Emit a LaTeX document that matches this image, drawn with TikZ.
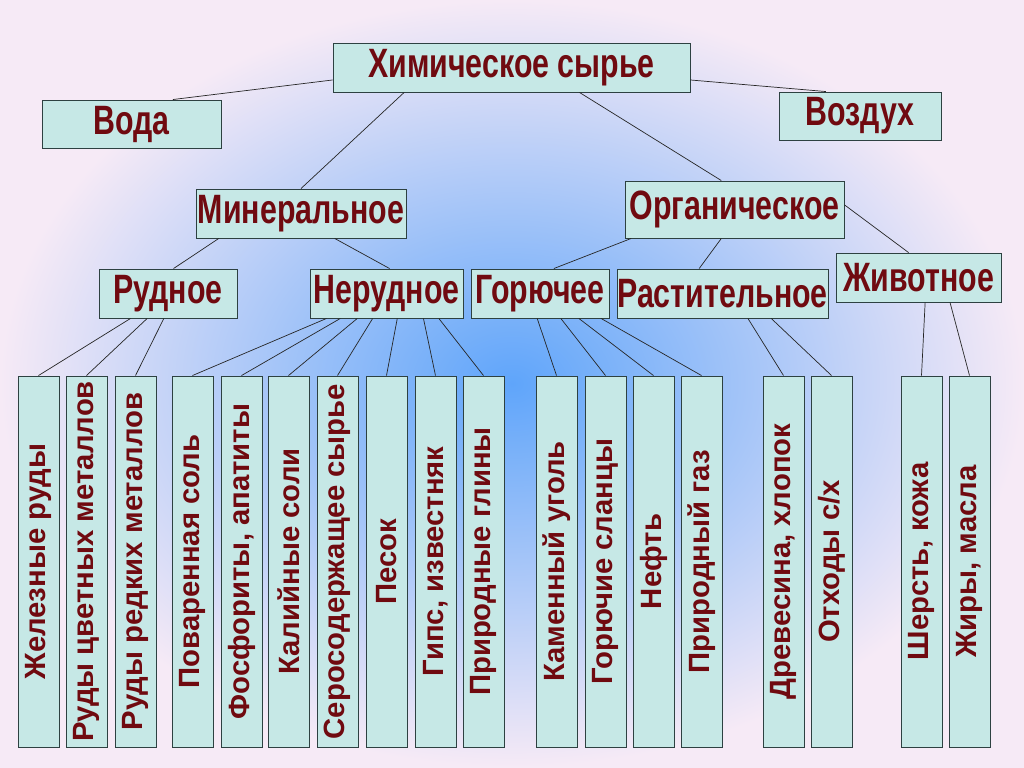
\documentclass[tikz,border=0pt]{standalone}
\usepackage{fontspec}
\setmainfont{Liberation Sans}
\newfontfamily\narfont[FakeStretch=0.74]{Liberation Sans}
\usetikzlibrary{calc}
\definecolor{boxfill}{RGB}{198,232,230}
\definecolor{boxline}{RGB}{45,65,65}
\definecolor{txtred}{RGB}{112,10,16}
\definecolor{bgblue}{RGB}{95,165,250}
\definecolor{bgedge}{RGB}{246,234,246}
\tikzset{
  cat/.style={rectangle,draw=boxline,fill=boxfill,thick,inner sep=0pt,
    text=txtred,font=\narfont\bfseries\fontsize{35}{37}\selectfont},
  item/.style={rectangle,draw=boxline,fill=boxfill,thick,inner sep=0pt,
    minimum width=41*0.3mm,minimum height=371*0.3mm,
    text=txtred,font=\bfseries\fontsize{25}{27}\selectfont},
  link/.style={draw=black!85,semithick}
}
\begin{document}
\begin{tikzpicture}[x=0.3mm,y=-0.3mm]
\shade[inner color=bgblue,outer color=bgedge] (0,0) rectangle (1024,767);
\useasboundingbox (0,0) rectangle (1024,767);
% top levels
\node[cat,minimum width=357*0.3mm,minimum height=49*0.3mm] (chem) at (511.5,67.5) {Химическое сырье};
\node[cat,minimum width=179*0.3mm,minimum height=48*0.3mm] (voda) at (131.5,124) {Вода};
\node[cat,minimum width=162*0.3mm,minimum height=48*0.3mm] (air) at (860,116) {Воздух};
\node[cat,minimum width=210*0.3mm,minimum height=49*0.3mm] (min) at (301,213.5) {Минеральное};
\node[cat,minimum width=219*0.3mm,minimum height=57*0.3mm] (org) at (734.5,209.5) {Органическое};
\node[cat,minimum width=138*0.3mm,minimum height=49*0.3mm] (rud) at (168,293.5) {Рудное};
\node[cat,minimum width=153*0.3mm,minimum height=49*0.3mm] (nerud) at (386.5,293.5) {Нерудное};
\node[cat,minimum width=138*0.3mm,minimum height=49*0.3mm] (gor) at (540,293.5) {Горючее};
\node[cat,minimum width=211*0.3mm,minimum height=49*0.3mm] (rast) at (722.5,293.5) {Растительное};
\node[cat,minimum width=165*0.3mm,minimum height=49*0.3mm] (zhiv) at (918.5,277.5) {Животное};
% upper links
\draw[link] ($(chem.south west)!0.5!(chem.west)$) -- ($(voda.north west)!0.73!(voda.north east)$);
\draw[link] ($(chem.south east)!0.5!(chem.east)$) -- ($(air.north west)!0.29!(air.north east)$);
\draw[link] ($(chem.south west)!0.2!(chem.south east)$) -- ($(min.north west)!0.5!(min.north east)$);
\draw[link] ($(chem.south west)!0.69!(chem.south east)$) -- ($(org.north west)!0.44!(org.north east)$);
\draw[link] ($(min.south west)!0.11!(min.south east)$) -- ($(rud.north west)!0.54!(rud.north east)$);
\draw[link] ($(min.south west)!0.66!(min.south east)$) -- ($(nerud.north west)!0.52!(nerud.north east)$);
\draw[link] ($(org.south west)!0.03!(org.south east)$) -- ($(gor.north west)!0.6!(gor.north east)$);
\draw[link] ($(org.south west)!0.44!(org.south east)$) -- ($(rast.north west)!0.39!(rast.north east)$);
\draw[link] ($(org.north east)!0.42!(org.south east)$) -- ($(zhiv.north west)!0.44!(zhiv.north east)$);
% raw materials
\foreach \n/\xl/\t in {i1/18/Железные руды, i2/66/Руды цветных металлов,
  i3/115/Руды редких металлов, i4/172/Поваренная соль,
  i5/221/{Фосфориты, апатиты}, i6/268/Калийные соли,
  i7/317/Серосодержащее сырье, i8/366/Песок,
  i9/415/{Гипс, известняк}, i10/463/Природные глины,
  i11/536/Каменный уголь, i12/585/Горючие сланцы,
  i13/633/Нефть, i14/681/Природный газ,
  i15/763/{Древесина, хлопок}, i16/811/{Отходы с/х},
  i17/901/{Шерсть, кожа}, i18/949/{Жиры, масла}}
  \node[item] (\n) at (\xl+20.5,561.5) {\rotatebox{90}{\t}};
% lower links
\foreach \p/\f/\c in {rud/0.23/i1, rud/0.35/i2, rud/0.47/i3,
  nerud/0.11/i4, nerud/0.2/i5, nerud/0.31/i6, nerud/0.41/i7,
  nerud/0.57/i8, nerud/0.74/i9, nerud/0.84/i10,
  gor/0.48/i11, gor/0.65/i12, gor/0.78/i13, gor/0.94/i14,
  rast/0.62/i15, rast/0.73/i16, zhiv/0.54/i17, zhiv/0.69/i18}
  \draw[link] ($(\p.south west)!\f!(\p.south east)$) -- (\c.north);
\end{tikzpicture}
\end{document}
